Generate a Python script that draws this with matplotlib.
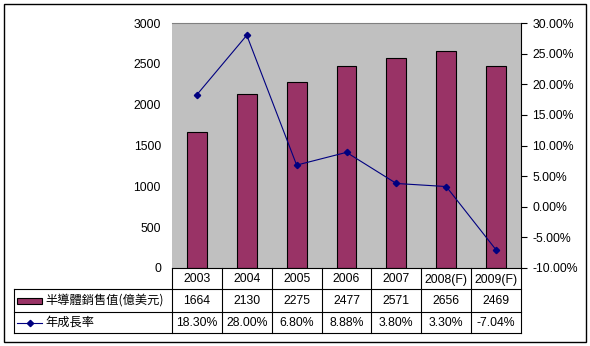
"""Semiconductor sales value and annual growth rate, bar + line with data table."""
import matplotlib
matplotlib.use("Agg")
import matplotlib.pyplot as plt
from matplotlib.lines import Line2D
from matplotlib.patches import Rectangle
from matplotlib.transforms import blended_transform_factory
from matplotlib.ticker import FuncFormatter, MultipleLocator

years = ["2003", "2004", "2005", "2006", "2007", "2008(F)", "2009(F)"]
sales = [1664, 2130, 2275, 2477, 2571, 2656, 2469]
growth = [18.30, 28.00, 6.80, 8.88, 3.80, 3.30, -7.04]
sales_labels = ["1664", "2130", "2275", "2477", "2571", "2656", "2469"]
growth_labels = ["18.30%", "28.00%", "6.80%", "8.88%", "3.80%", "3.30%", "-7.04%"]
sales_name = "半導體銷售值(億美元)"
growth_name = "年成長率"

BAR = "#993366"
LINE = "#000080"
W, H = 590, 346
FS = 8.8

plt.rcParams["font.family"] = ["Liberation Sans", "Noto Sans CJK TC", "DejaVu Sans"]
cjk = ["Noto Sans CJK TC", "DejaVu Sans"]

fig = plt.figure(figsize=(W / 100, H / 100), dpi=100)


def fx(px):
    return px / W


def fy(py):
    return 1 - py / H


# outer frame
fig.add_artist(Rectangle((fx(4), fy(342)), fx(582), 338 / H, transform=fig.transFigure,
                         fill=False, edgecolor="black", linewidth=1))

left, top, right, bottom = 172, 23, 521, 268
ax = fig.add_axes([fx(left), fy(bottom), fx(right - left), (bottom - top) / H])
ax.set_facecolor("#C0C0C0")
x = list(range(len(years)))
ax.bar(x, sales, width=0.4, color=BAR, edgecolor="black", linewidth=0.8, zorder=2)
ax.set_xlim(-0.5, len(years) - 0.5)
ax.set_ylim(0, 3000)
ax.yaxis.set_major_locator(MultipleLocator(500))
ax.set_xticks([])
ax.tick_params(axis="y", length=0, labelsize=FS, pad=8)
for s in ["top", "right", "left", "bottom"]:
    ax.spines[s].set_visible(False)
ax.spines["top"].set_visible(True)
ax.spines["top"].set_color("#808080")

ax2 = ax.twinx()
ax2.plot(x, growth, color=LINE, linewidth=0.8, marker="D", markersize=3.2, zorder=3)
ax2.set_ylim(-10, 30)
ax2.yaxis.set_major_locator(MultipleLocator(5))
ax2.yaxis.set_major_formatter(FuncFormatter(lambda v, p: f"{v:.2f}%"))
ax2.tick_params(axis="y", length=4, width=0.8, labelsize=FS, pad=4)
for s in ["top", "left", "bottom"]:
    ax2.spines[s].set_visible(False)
ax2.spines["right"].set_linewidth(0.8)

# data table below the plot
tr = blended_transform_factory(ax.transData, fig.transFigure)
rows = [268, 289, 312, 333]
edges = [i - 0.5 for i in range(len(years) + 1)]
table_left = 14
lw = 0.8

for yv in rows:
    if yv == rows[0]:
        fig.add_artist(Line2D([edges[0], edges[-1]], [fy(yv), fy(yv)], transform=tr,
                              color="black", linewidth=lw))
    else:
        fig.add_artist(Line2D([fx(table_left), fx(right)], [fy(yv), fy(yv)],
                              transform=fig.transFigure, color="black", linewidth=lw))
for e in edges:
    fig.add_artist(Line2D([e, e], [fy(rows[0]), fy(rows[-1])], transform=tr,
                          color="black", linewidth=lw))
fig.add_artist(Line2D([fx(table_left), fx(table_left)], [fy(rows[1]), fy(rows[-1])],
                      transform=fig.transFigure, color="black", linewidth=lw))

row_text = [years, sales_labels, growth_labels]
for r, labels in enumerate(row_text):
    yc = fy((rows[r] + rows[r + 1]) / 2 + 1)
    for i, t in enumerate(labels):
        fig.text(0, yc, t, transform=tr, fontsize=FS, ha="center", va="center").set_x(i)

# legend keys in the row headers
yc1 = fy((rows[1] + rows[2]) / 2)
fig.add_artist(Rectangle((fx(17), yc1 - 3 / H), fx(25), 6 / H, transform=fig.transFigure,
                         facecolor=BAR, edgecolor="black", linewidth=0.8))
fig.text(fx(45), yc1, sales_name, fontsize=8.8, family=cjk, va="center", ha="left")

yc2 = fy((rows[2] + rows[3]) / 2)
fig.add_artist(Line2D([fx(17), fx(42)], [yc2, yc2], transform=fig.transFigure,
                      color=LINE, linewidth=0.8))
fig.add_artist(Line2D([fx(29.5)], [yc2], transform=fig.transFigure, color=LINE,
                      marker="D", markersize=3.2, linestyle="none"))
fig.text(fx(45), yc2, growth_name, fontsize=8.8, family=cjk, va="center", ha="left")

fig.savefig("out.png", dpi=100)
